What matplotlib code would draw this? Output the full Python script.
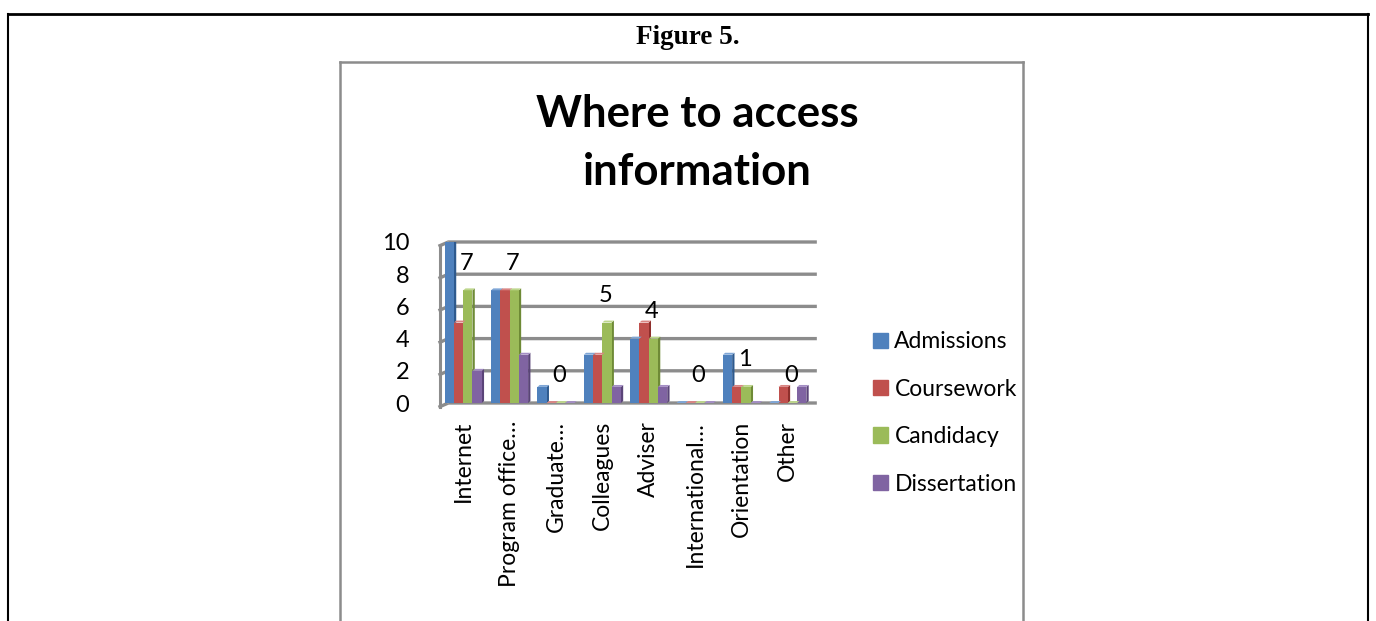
import matplotlib
matplotlib.use("Agg")
import matplotlib.pyplot as plt
import numpy as np
from matplotlib.patches import Polygon, Rectangle
from matplotlib.lines import Line2D

categories = ["Internet", "Program office…", "Graduate…", "Colleagues",
              "Adviser", "International…", "Orientation", "Other"]
admissions = [10, 7, 1, 3, 4, 0, 3, 0]
coursework = [5, 7, 0, 3, 5, 0, 1, 1]
candidacy = [7, 7, 0, 5, 4, 0, 1, 0]
dissertation = [2, 3, 0, 1, 1, 0, 0, 1]
series_names = ["Admissions", "Coursework", "Candidacy", "Dissertation"]
yticks = [0, 2, 4, 6, 8, 10]

colors = ["#4F81BD", "#C0504D", "#9BBB59", "#8064A2"]
dark = ["#2E5A8E", "#8E2F2C", "#6E8A36", "#5A4478"]
light = ["#7FA6D6", "#D98583", "#BDD68C", "#A48EC4"]

W, H = 1376, 621
fig = plt.figure(figsize=(W / 100, H / 100), dpi=100)
fig.patch.set_facecolor("white")

# outer frame
fig.add_artist(Line2D([8 / W, 1368 / W], [1 - 14 / H, 1 - 14 / H], color="black", lw=2))
fig.add_artist(Line2D([8 / W, 8 / W], [0, 1 - 14 / H], color="black", lw=1.5))
fig.add_artist(Line2D([1368 / W, 1368 / W], [0, 1 - 14 / H], color="black", lw=1.5))
# chart box
fig.add_artist(Line2D([340 / W, 1023 / W], [1 - 62 / H, 1 - 62 / H], color="#8C8C8C", lw=1.8))
fig.add_artist(Line2D([340 / W, 340 / W], [0, 1 - 62 / H], color="#8C8C8C", lw=1.8))
fig.add_artist(Line2D([1023 / W, 1023 / W], [0, 1 - 62 / H], color="#8C8C8C", lw=1.8))

fig.text(688 / W, 1 - 38 / H, "Figure 5.", ha="center", va="center",
         fontsize=19.5, fontweight="bold", family="Liberation Serif")
fig.text(697 / W, 1 - 143 / H, "Where to access\ninformation", ha="center", va="center",
         fontsize=31.5, fontweight="bold", family="Lato", linespacing=1.52)

ax = fig.add_axes([440 / W, 1 - 403 / H, (811 - 440) / W, (403 - 242) / H])
ax.set_xlim(-0.5, len(categories) - 0.5)
ax.set_ylim(0, 10)
for s in ax.spines.values():
    s.set_visible(False)

# 3D-ish gridlines (back wall offset)
dx, dy = 0.18, 0.25
for t in yticks:
    ax.plot([-0.5, -0.5 + dx, len(categories) - 0.5 + dx * 0.5],
            [t - dy * 0.9, t, t], color="#8C8C8C", lw=2.4, zorder=1, clip_on=False)
ax.plot([-0.5, -0.5], [-dy * 0.9, 10 - dy * 0.9], color="#8C8C8C", lw=2.2, clip_on=False, zorder=1)
ax.plot([-0.5 + dx, -0.5 + dx], [0, 10], color="#A0A0A0", lw=1.2, clip_on=False, zorder=1)

x = np.arange(len(categories))
bw = 0.2
data = [admissions, coursework, candidacy, dissertation]
sx, sy = 0.05, 0.12
for i, (vals, c) in enumerate(zip(data, colors)):
    pos = x - 0.3 + i * bw
    bars = ax.bar(pos, vals, width=bw, color=c, zorder=3, label=series_names[i])
    for b in bars:
        x0 = b.get_x(); x1 = x0 + b.get_width(); h = b.get_height()
        ax.add_patch(Polygon([[x1, 0], [x1 + sx, sy], [x1 + sx, h + sy], [x1, h]],
                             closed=True, facecolor=dark[i], edgecolor="none", zorder=2.9))
        ax.add_patch(Polygon([[x0, h], [x0 + sx, h + sy], [x1 + sx, h + sy], [x1, h]],
                             closed=True, facecolor=light[i], edgecolor="none", zorder=3.1))

# data labels for the Candidacy series
for xi, v in zip(x, candidacy):
    ax.annotate(str(v), (xi + 0.1, v), xytext=(-1, 12), textcoords="offset points",
                ha="center", va="bottom", fontsize=17, family="Lato", zorder=5)

ax.set_yticks(yticks)
ax.set_yticklabels([str(t) for t in yticks], fontsize=17, family="Lato")
ax.tick_params(axis="y", length=0, pad=22)
ax.set_xticks(x)
ax.set_xticklabels(categories, rotation=90, fontsize=16.5, family="Lato", va="top", ha="center")
ax.tick_params(axis="x", length=0, pad=13)

handles = [Rectangle((0, 0), 1, 1, color=c) for c in colors]
leg = fig.legend(handles, series_names, loc="center left", bbox_to_anchor=(852 / W, 1 - 413 / H),
                 frameon=False, prop={"family": "Lato", "size": 16.5},
                 handlelength=0.65, handleheight=0.65, handletextpad=0.3, labelspacing=1.15)

fig.savefig("out.png", dpi=100, facecolor="white")
